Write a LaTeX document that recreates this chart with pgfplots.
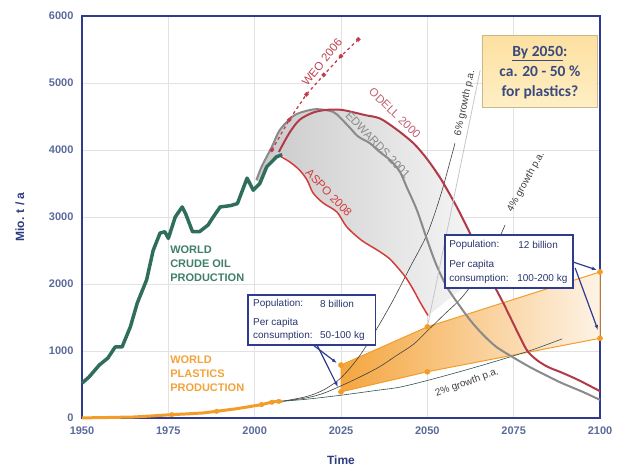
\documentclass[border=0pt]{standalone}
\usepackage{pgfplots}
\pgfplotsset{compat=1.18}
\usepackage{fontspec}
\setmainfont{Liberation Sans}
\newfontfamily\calibri{Carlito}
\usetikzlibrary{arrows.meta}

\definecolor{axisblue}{HTML}{2E3B8E}
\definecolor{ticklbl}{HTML}{5A6A9A}
\definecolor{labelblue}{HTML}{2E3B7E}
\definecolor{gridgray}{HTML}{E2E2E2}
\definecolor{oilgreen}{HTML}{2F6E5C}
\definecolor{oiltext}{HTML}{3F7F6A}
\definecolor{plast}{HTML}{F39C2A}
\definecolor{plasttext}{HTML}{F2A33A}
\definecolor{weored}{HTML}{C0404F}
\definecolor{odellred}{HTML}{B23A48}
\definecolor{odelltext}{HTML}{C06070}
\definecolor{edgray}{HTML}{8A8A8A}
\definecolor{aspored}{HTML}{D43C3C}
\definecolor{growth}{HTML}{404040}
\definecolor{boxtext}{HTML}{2A3570}
\definecolor{notetext}{HTML}{3A4A80}
\definecolor{noteborder}{HTML}{C8B890}
\definecolor{notetop}{HTML}{FCE0A0}
\definecolor{notebot}{HTML}{FFEFC4}

\begin{document}
\begin{tikzpicture}
\begin{axis}[
    scale only axis,
    width=518pt, height=402pt,
    xmin=1950, xmax=2100,
    ymin=0, ymax=6000,
    xtick={1950,1975,...,2100},
    ytick={0,1000,...,6000},
    grid=major,
    grid style={draw=gridgray, line width=0.6pt},
    major tick length=0pt,
    axis line style={draw=axisblue, line width=1.5pt},
    tick label style={font=\bfseries\fontsize{11}{13}\selectfont, text=ticklbl},
    xticklabel style={yshift=-5pt},
    yticklabel style={xshift=-5pt},
    /pgf/number format/assume math mode=true,
    /pgf/number format/1000 sep={},
    xlabel={Time},
    ylabel={Mio. t / a},
    label style={font=\bfseries\fontsize{12}{14}\selectfont, text=labelblue},
    xlabel style={at={(axis description cs:0.5,0)}, anchor=center, yshift=-42pt},
    ylabel style={at={(axis description cs:0,0.5)}, anchor=center, yshift=62pt},
    clip=false,
]
\coordinate (SW) at (rel axis cs:0,0);
\coordinate (NE) at (rel axis cs:1,1);

% grey band of the oil forecasts
\addplot[draw=none, left color=gray!42, right color=gray!6] coordinates {
    (2000.5,3550) (2002,3750) (2005,4050) (2007.3,4300) (2011,4500) (2014,4570)
    (2018,4610) (2021.8,4600) (2025,4600) (2028,4570) (2032,4500) (2036.3,4490)
    (2041,4300) (2046,4100) (2050,3850) (2053.7,3650) (2055.7,3450) (2060.4,3000)
    (2063.3,2680) (2067,2210) (2050.2,1530) (2048,1720) (2046,1910) (2044,2080)
    (2042,2210) (2039,2380) (2035.4,2510) (2031,2650) (2026.7,2850) (2023.8,3075)
    (2019.8,3210) (2016.9,3360) (2015.2,3550) (2013,3700) (2010.2,3820) (2008,3930)
    (2006,3900) (2003.5,3750) (2001.5,3500)
};

% plastics scenario band
\addplot[draw=plast, line width=1pt, left color=plast!90, right color=plast!12] coordinates {
    (2025,790) (2050,1360) (2100,2180) (2100,1190) (2050,690) (2025,390) (2025,790)
};

% growth curves
\addplot[growth, line width=0.6pt, smooth] coordinates {
    (2008,250) (2015,320) (2020,420) (2025,600) (2030,900) (2035,1300)
    (2040,1750) (2045,2250) (2050,2750) (2054,3350) (2058,4100)
};
\addplot[growth, line width=0.6pt, smooth] coordinates {
    (2008,250) (2015,300) (2020,370) (2025,480) (2030,600) (2036,760)
    (2041,930) (2046,1100) (2050,1300) (2055,1550) (2060,1800) (2065,2150)
    (2070,2600) (2072.5,2880)
};
\addplot[color=growth!70!teal, line width=0.6pt, smooth] coordinates {
    (2008,250) (2015,280) (2025,340) (2035,410) (2042,460) (2050,560)
    (2060,700) (2070,850) (2080,1010) (2089,1180)
};

% EDWARDS 2001
\addplot[edgray, line width=2pt, smooth] coordinates {
    (2000.5,3550) (2002,3750) (2005,4050) (2007.3,4300) (2011,4500) (2014,4570)
    (2018,4610) (2022.7,4570) (2025,4470) (2027.6,4330) (2030,4200) (2033.4,4100)
    (2036,3980) (2039.2,3850) (2042,3680) (2044,3450) (2047,3100) (2050,2650)
    (2052.5,2300) (2055.6,1960) (2059,1700) (2062.4,1460) (2066,1250) (2070,1060)
    (2075,900) (2079.7,760) (2085,620) (2089,520) (2095,390) (2100,270)
};
% ODELL 2000
\addplot[odellred, line width=2pt, smooth] coordinates {
    (2007,3970) (2010,4250) (2013,4450) (2017,4560) (2021,4600) (2025,4600)
    (2028,4570) (2032,4520) (2036.3,4470) (2041,4310) (2046,4100) (2050,3860)
    (2054,3560) (2058,3200) (2061,2900) (2063.3,2650)
    (2067,2210) (2072,1715) (2076.8,1210) (2079,1000) (2081.7,865) (2085,760)
    (2089.3,670) (2094,560) (2100,400)
};
% ASPO 2008
\addplot[aspored, line width=1.5pt, smooth] coordinates {
    (2007,3920) (2010.2,3820) (2013,3700) (2015.2,3550) (2016.9,3360)
    (2019.8,3210) (2023.8,3075) (2026.7,2850) (2031,2650) (2035.4,2510)
    (2039,2380) (2042,2210) (2044,2080) (2046,1910) (2048,1720) (2050.2,1530)
};
% WEO 2006
\addplot[weored, line width=1.3pt, dashed, mark=*, mark size=1.6pt,
    mark options={solid}] coordinates {
    (2005,4000) (2010,4450) (2015,4830) (2020,5120) (2025,5400) (2030,5650)
};

% world crude oil production
\addplot[oilgreen, line width=3.5pt, line join=round] coordinates {
    (1950,520) (1952,610) (1953,670) (1955,790) (1957.5,895) (1959.6,1060)
    (1961.6,1060) (1964,1360) (1966,1715) (1968.7,2060) (1970.6,2500)
    (1972.6,2760) (1974,2780) (1975,2680) (1977,3000) (1979,3150) (1980,3050)
    (1982,2780) (1984,2780) (1986.5,2880) (1988,3000) (1990,3150) (1993,3170)
    (1995,3200) (1997.8,3580) (1999.6,3400) (2001.5,3500) (2003.5,3750)
    (2006.4,3900) (2008,3930)
};

% world plastics production
\addplot[plast, line width=3pt, line join=round] coordinates {
    (1950,2) (1955,5) (1960,10) (1965,15) (1970,30) (1976,50) (1980,60)
    (1985,75) (1989,100) (1995,140) (2002,200) (2004,225) (2006,245) (2008,250)
};
\addplot[only marks, mark=*, mark size=2.3pt, color=plast] coordinates {
    (1976,50) (1989,100) (2002,200) (2005,235) (2007,248)
};
\addplot[only marks, mark=*, mark size=2.6pt, color=plast] coordinates {
    (2025,790) (2050,1360) (2100,2180) (2025,390) (2050,690) (2100,1190)
};

% call-out line from the note
\draw[gray!45, line width=0.8pt] (axis cs:2065.3,5190) -- (axis cs:2050,1360);

% series labels
\node[anchor=north west, inner sep=0pt, align=left, text=oiltext,
    font=\bfseries\fontsize{11}{14}\selectfont] at (axis cs:1975.5,2567)
    {WORLD\\CRUDE OIL\\PRODUCTION};
\node[anchor=north west, inner sep=0pt, align=left, text=plasttext,
    font=\bfseries\fontsize{11}{14}\selectfont] at (axis cs:1975.5,925)
    {WORLD\\PLASTICS\\PRODUCTION};
\begin{scope}[every node/.style={inner sep=0pt, font=\fontsize{11.5}{13}\selectfont}]
\node[rotate=51, text=weored] at (axis cs:2019.5,5310) {WEO 2006};
\node[rotate=-44, text=odelltext] at (axis cs:2040.6,4550) {ODELL 2000};
\node[rotate=-46, text=edgray] at (axis cs:2035.7,4075) {EDWARDS 2001};
\node[rotate=-46, text=aspored] at (axis cs:2021.5,3360) {ASPO 2008};
\end{scope}
\begin{scope}[every node/.style={inner sep=0pt, text=growth, font=\fontsize{10}{12}\selectfont}]
\node[rotate=78] at (axis cs:2060.9,4701) {6\% growth p.a.};
\node[rotate=61] at (axis cs:2078.6,3522) {4\% growth p.a.};
\node[rotate=20] at (axis cs:2061.5,522) {2\% growth p.a.};
\end{scope}

% population boxes
\draw[axisblue, line width=1.3pt, fill=white] (axis cs:1998.1,1836) rectangle (axis cs:2034.9,1090);
\begin{scope}[every node/.style={anchor=west, inner sep=0pt, text=boxtext, font=\fontsize{10}{12}\selectfont}]
\node at (axis cs:1999.5,1701) {Population:};
\node at (axis cs:2018.9,1701) {8 billion};
\node at (axis cs:1999.5,1418) {Per capita};
\node at (axis cs:1999.5,1224) {consumption:};
\node at (axis cs:2018.9,1224) {50-100 kg};
\end{scope}
\draw[axisblue, line width=1.2pt, -{Latex[length=5pt]}] (axis cs:2016.9,1090) -- (axis cs:2023.8,821);
\draw[axisblue, line width=1.2pt, -{Latex[length=5pt]}] (axis cs:2018.05,1090) -- (axis cs:2024.1,463);

\draw[axisblue, line width=1.3pt, fill=white] (axis cs:2055.1,2731) rectangle (axis cs:2092.2,1940);
\begin{scope}[every node/.style={anchor=west, inner sep=0pt, text=boxtext, font=\fontsize{10}{12}\selectfont}]
\node at (axis cs:2056.3,2582) {Population:};
\node at (axis cs:2076.3,2582) {12 billion};
\node at (axis cs:2056.3,2284) {Per capita};
\node at (axis cs:2056.3,2075) {consumption:};
\node at (axis cs:2076.0,2075) {100-200 kg};
\end{scope}
\draw[axisblue, line width=1.2pt, -{Latex[length=5pt]}] (axis cs:2092.2,2328) -- (axis cs:2099.1,2209);
\draw[axisblue, line width=1.2pt, -{Latex[length=5pt]}] (axis cs:2092.8,2239) -- (axis cs:2099.4,1313);

% note box
\draw[noteborder, line width=0.8pt, top color=notetop, bottom color=notebot]
    (axis cs:2065.8,5716) rectangle (axis cs:2099.1,4642);
\node[align=center, inner sep=0pt, text=notetext, font=\calibri\bfseries\fontsize{15.5}{20}\selectfont]
    at (axis cs:2082.6,5157) {\underline{By 2050}:\\ca. 20 - 50 \%\\for plastics?};
\end{axis}
\pgfresetboundingbox
\path ([shift={(-82pt,-49pt)}]SW) rectangle ([shift={(20pt,16pt)}]NE);
\end{tikzpicture}
\end{document}
